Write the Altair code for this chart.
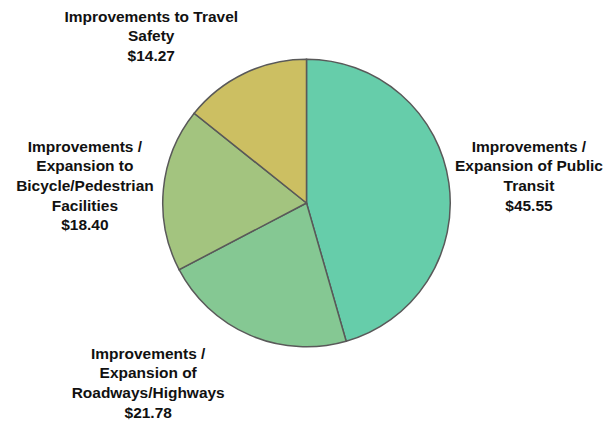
import math
import altair as alt
import pandas as pd

# ---- data ----
categories = [
    "Improvements / Expansion of Public Transit",
    "Improvements / Expansion of Roadways/Highways",
    "Improvements / Expansion to Bicycle/Pedestrian Facilities",
    "Improvements to Travel Safety",
]
values = [45.55, 21.78, 18.40, 14.27]
label_lines = [
    ["Improvements /", "Expansion of Public", "Transit"],
    ["Improvements /", "Expansion of", "Roadways/Highways"],
    ["Improvements /", "Expansion to", "Bicycle/Pedestrian", "Facilities"],
    ["Improvements to Travel", "Safety"],
]
colors = ["#66CDAA", "#85C893", "#A3C47F", "#CCBF62"]

# ---- table built from the arrays ----
total = sum(values)
starts, ends, mids = [], [], []
acc = 0.0
for v in values:
    starts.append(acc)
    ends.append(acc + v)
    mids.append(acc + v / 2)
    acc += v

df = pd.DataFrame({
    "category": categories,
    "value": values,
    "idx": list(range(len(values))),
    "start": starts,
    "end": ends,
    "mid": mids,
    "label": ["\n".join(lines + [f"${v:.2f}"]) for lines, v in zip(label_lines, values)],
})

theta_scale = alt.Scale(domain=[0, total], range=[0, 2 * math.pi])

W, H = 598, 390
R = 144

pie = alt.Chart(df).mark_arc(
    outerRadius=R, stroke="#595959", strokeWidth=1.5
).encode(
    theta=alt.Theta("start:Q", scale=theta_scale),
    theta2="end:Q",
    color=alt.Color("category:N", scale=alt.Scale(domain=categories, range=colors), legend=None),
)

# label placement (pixel nudges per label, like a manually arranged pie chart);
# the anchor is the first line of each label
offsets = {0: (0, -25), 1: (-70, -56), 2: (2, -35), 3: (-58, 16)}

text_layers = []
for i, (dx, dy) in offsets.items():
    t = alt.Chart(df).transform_filter(alt.datum.idx == i).mark_text(
        radius=225, dx=dx, dy=dy,
        lineBreak="\n", lineHeight=19.7,
        font="Liberation Sans", fontSize=15.5, fontWeight="bold",
        align="center", baseline="middle", color="#111111",
    ).encode(
        theta=alt.Theta("mid:Q", scale=theta_scale),
        text="label:N",
    )
    text_layers.append(t)

chart = alt.layer(pie, *text_layers).properties(
    width=W, height=H,
    autosize=alt.AutoSizeParams(type="none"),
    padding={"left": 0, "top": 0, "right": 0, "bottom": 26},
).configure_view(stroke=None).configure(background="white")

chart.save("out.html", embed_options={"renderer": "svg", "actions": False})
